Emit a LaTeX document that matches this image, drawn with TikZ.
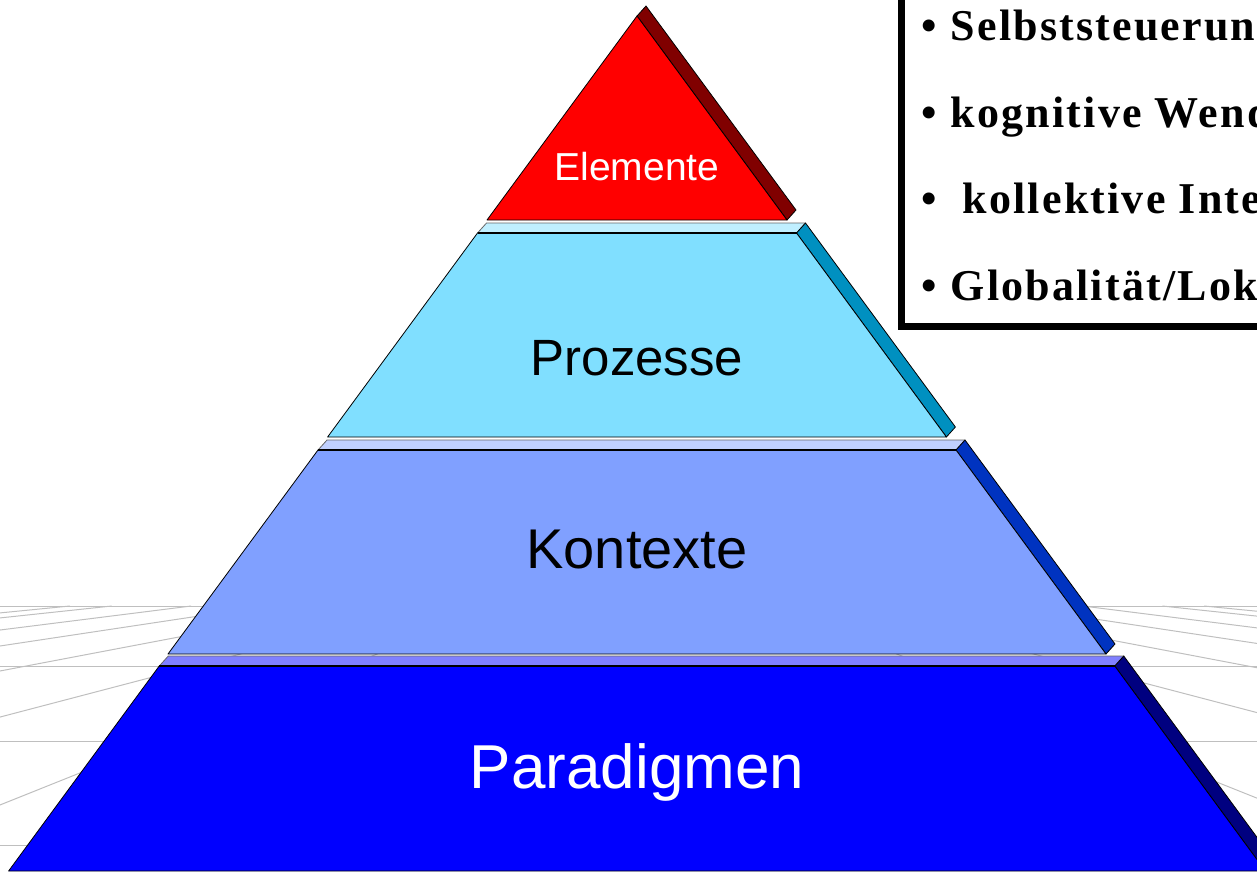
\documentclass[tikz,border=0pt]{standalone}
\usepackage{fontspec}
\setmainfont{Liberation Serif}
\newfontfamily\labelfont{Liberation Sans}
\newfontfamily\boxfont[LetterSpace=5]{Liberation Serif}

\definecolor{elemfront}{HTML}{FF0000}
\definecolor{elemside}{HTML}{800000}
\definecolor{prozfront}{HTML}{80DFFF}
\definecolor{proztop}{HTML}{C0EFFF}
\definecolor{prozside}{HTML}{0090C0}
\definecolor{kontfront}{HTML}{80A0FF}
\definecolor{konttop}{HTML}{C0D0FF}
\definecolor{kontside}{HTML}{0033C0}
\definecolor{paradfront}{HTML}{0000FF}
\definecolor{paradtop}{HTML}{8080FF}
\definecolor{paradside}{HTML}{000080}

\tikzset{
  gridline/.style={draw=black!25, line width=1pt},
  face/.style={draw=black, line width=0.8pt, line join=round},
  topface/.style={draw=black!60, line width=0.8pt, line join=round},
  frontedge/.style={draw=black, line width=1.6pt},
  layerlabel/.style={anchor=base, inner sep=0pt, font=\labelfont\fontsize{#1}{#1}\selectfont},
  bulletline/.style={anchor=base west, inner sep=0pt, font=\boxfont\bfseries\fontsize{44}{44}\selectfont}
}

\begin{document}
\begin{tikzpicture}[x=1pt, y=-1pt]

\useasboundingbox (0,0) rectangle (1257,871);
\clip (0,0) rectangle (1257,871);

% Floor grid behind the pyramid
\foreach \y in {606,666,741,845}
  \draw[gridline] (0,\y) -- (1257,\y);
\foreach \d in {802,1224,1690,2130,2555,3010,3250} {
  \draw[gridline] (637-\d,871) -- (637-\d*0.1745,606);
  \draw[gridline] (637+\d,871) -- (637+\d*0.1745,606);
}

% Define the coordinates of the layers
\coordinate (E1) at (487,220);
\coordinate (E2) at (787,220);
\coordinate (E3) at (637,16);
\coordinate (E2b) at (796,210);
\coordinate (E3b) at (646,6);

\coordinate (P1) at (477.5,233);
\coordinate (P2) at (796.5,233);
\coordinate (P3) at (946.4,437);
\coordinate (P4) at (327.6,437);
\coordinate (P1b) at (486.5,223);
\coordinate (P2b) at (805.5,223);
\coordinate (P3b) at (955.4,427);

\coordinate (K1) at (318,450);
\coordinate (K2) at (956,450);
\coordinate (K3) at (1106,654);
\coordinate (K4) at (168,654);
\coordinate (K1b) at (327,440);
\coordinate (K2b) at (965,440);
\coordinate (K3b) at (1115,644);

\coordinate (G1) at (159.25,666);
\coordinate (G2) at (1114.75,666);
\coordinate (G3) at (1265.4,871);
\coordinate (G4) at (8.6,871);
\coordinate (G1b) at (168.25,656);
\coordinate (G2b) at (1123.75,656);
\coordinate (G3b) at (1274.4,861);

% Paradigmen
\draw[topface, fill=paradtop] (G1) -- (G1b) -- (G2b) -- (G2) -- cycle;
\draw[face, fill=paradside] (G2) -- (G2b) -- (G3b) -- (G3) -- cycle;
\draw[face, fill=paradfront] (G1) -- (G2) -- (G3) -- (G4) -- cycle;
\draw[frontedge] (G1) -- (G2);

% Kontexte
\draw[topface, fill=konttop] (K1) -- (K1b) -- (K2b) -- (K2) -- cycle;
\draw[face, fill=kontside] (K2) -- (K2b) -- (K3b) -- (K3) -- cycle;
\draw[face, fill=kontfront] (K1) -- (K2) -- (K3) -- (K4) -- cycle;
\draw[frontedge] (K1) -- (K2);

% Prozesse
\draw[topface, fill=proztop] (P1) -- (P1b) -- (P2b) -- (P2) -- cycle;
\draw[face, fill=prozside] (P2) -- (P2b) -- (P3b) -- (P3) -- cycle;
\draw[face, fill=prozfront] (P1) -- (P2) -- (P3) -- (P4) -- cycle;
\draw[frontedge] (P1) -- (P2);

% Elemente
\draw[face, fill=elemside] (E2) -- (E2b) -- (E3b) -- (E3) -- cycle;
\draw[face, fill=elemfront] (E1) -- (E2) -- (E3) -- cycle;

% Labels of the layers
\node[layerlabel=39, text=white] (elemente) at (637,180) {Elemente};
\node[layerlabel=51] (prozesse) at (637,375) {Prozesse};
\node[layerlabel=56] (kontexte) at (637,568) {Kontexte};
\node[layerlabel=62, text=white] (paradigmen) at (637,788) {Paradigmen};

% Box with the bullet list
\draw[line width=7pt, fill=white] (901,-20) rectangle (1300,326);
\node[bulletline] (selbst) at (921,40) {\textbullet\hspace{14pt}Selbststeuerung};
\node[bulletline] (wende) at (921,127) {\textbullet\hspace{14pt}kognitive Wende};
\node[bulletline] (intel) at (921,213) {\textbullet\hspace{26pt}kollektive Intelligenz};
\node[bulletline] (lokal) at (921,300) {\textbullet\hspace{14pt}Globalität/Lokalität};

\end{tikzpicture}
\end{document}
